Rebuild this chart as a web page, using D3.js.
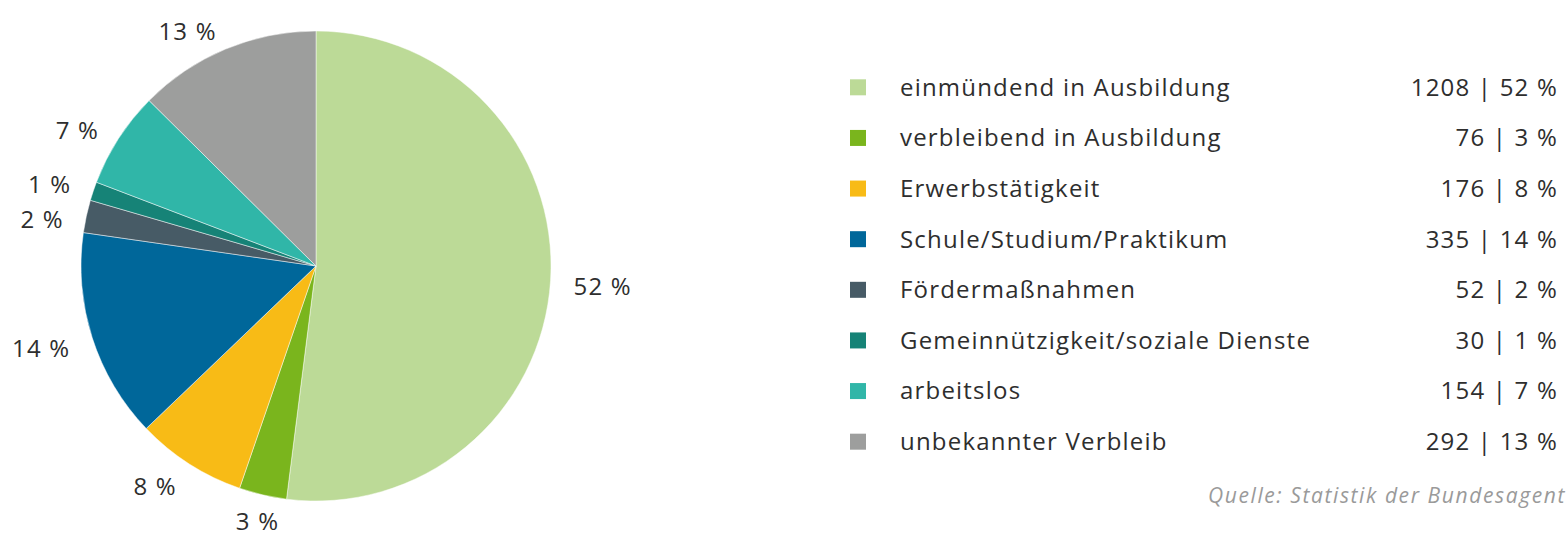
<!doctype html>
<html lang="de">
<head>
<meta charset="utf-8">
<script src="https://d3js.org/d3.v7.min.js"></script>
<style>
  body { margin: 0; background: #fff; }
  svg { display: block; font-family: "Open Sans", sans-serif; }
  .lbl { font-size: 24px; fill: #2e2e2e; letter-spacing: 1.2px; }
  .src { font-size: 21px; fill: #9a9a9a; font-style: italic; letter-spacing: 1.6px; }
</style>
</head>
<body>
<svg width="1566" height="539"></svg>
<script>
const categories = ["einmündend in Ausbildung", "verbleibend in Ausbildung", "Erwerbstätigkeit",
  "Schule/Studium/Praktikum", "Fördermaßnahmen", "Gemeinnützigkeit/soziale Dienste",
  "arbeitslos", "unbekannter Verbleib"];
const counts = [1208, 76, 176, 335, 52, 30, 154, 292];
const percents = [52, 3, 8, 14, 2, 1, 7, 13];
const colors = ["#bcda97", "#7ab51d", "#f8bb16", "#00679a", "#475b66", "#168377", "#30b6a8", "#9d9e9d"];
const source = "Quelle: Statistik der Bundesagentur für Arbeit";

const svg = d3.select("svg");
const cx = 316, cy = 266, r = 235, labelR = 258;

const color = d3.scaleOrdinal().domain(categories).range(colors);
const data = categories.map((c, i) => ({ name: c, count: counts[i], pct: percents[i] }));

const pie = d3.pie().value(d => d.count).sort(null);
const arcs = pie(data);
const arc = d3.arc().innerRadius(0).outerRadius(r);
const labelArc = d3.arc().innerRadius(labelR).outerRadius(labelR);

const g = svg.append("g").attr("transform", `translate(${cx},${cy})`);

g.selectAll("path")
  .data(arcs)
  .enter()
  .append("path")
  .attr("d", arc)
  .attr("fill", d => color(d.data.name))
  .attr("stroke", "rgba(255,255,255,0.6)")
  .attr("stroke-width", 0.8);

// label positions, pushed apart when two on the same side are too close
const labels = arcs.map(d => {
  const [x, y] = labelArc.centroid(d);
  const mid = (d.startAngle + d.endAngle) / 2;
  let anchor = mid < Math.PI ? "start" : "end";
  if (Math.abs(mid - Math.PI) < 0.3) anchor = "middle";
  return { d, x, y: y + 4, side: mid < Math.PI ? 1 : -1, anchor };
});
const minGap = 35;
[1, -1].forEach(side => {
  const s = labels.filter(l => l.side === side).sort((a, b) => a.y - b.y);
  for (let i = 1; i < s.length; i++) {
    const gap = s[i].y - s[i - 1].y;
    if (gap < minGap) {
      const shift = (minGap - gap) / 2;
      s[i - 1].y -= shift;
      s[i].y += shift;
    }
  }
});

g.selectAll("text")
  .data(labels)
  .enter()
  .append("text")
  .attr("class", "lbl")
  .attr("x", l => l.x)
  .attr("y", l => l.y)
  .attr("dy", "0.35em")
  .attr("text-anchor", l => l.anchor)
  .text(l => l.d.data.pct + " %");

// legend
const y = d3.scaleBand().domain(categories).range([62, 467]);
const legend = svg.append("g");
const rows = legend.selectAll("g")
  .data(data)
  .enter()
  .append("g")
  .attr("transform", d => `translate(0,${y(d.name) + y.bandwidth() / 2})`);

rows.append("rect")
  .attr("x", 850).attr("y", -8)
  .attr("width", 16).attr("height", 16)
  .attr("fill", d => color(d.name));

rows.append("text")
  .attr("class", "lbl")
  .attr("x", 900).attr("dy", "0.35em")
  .text(d => d.name);

rows.append("text")
  .attr("class", "lbl")
  .attr("x", 1558).attr("dy", "0.35em")
  .attr("text-anchor", "end")
  .text(d => `${d.count} | ${d.pct} %`);

svg.append("text")
  .attr("class", "src")
  .attr("x", 1208).attr("y", 503)
  .text(source);
</script>
</body>
</html>
